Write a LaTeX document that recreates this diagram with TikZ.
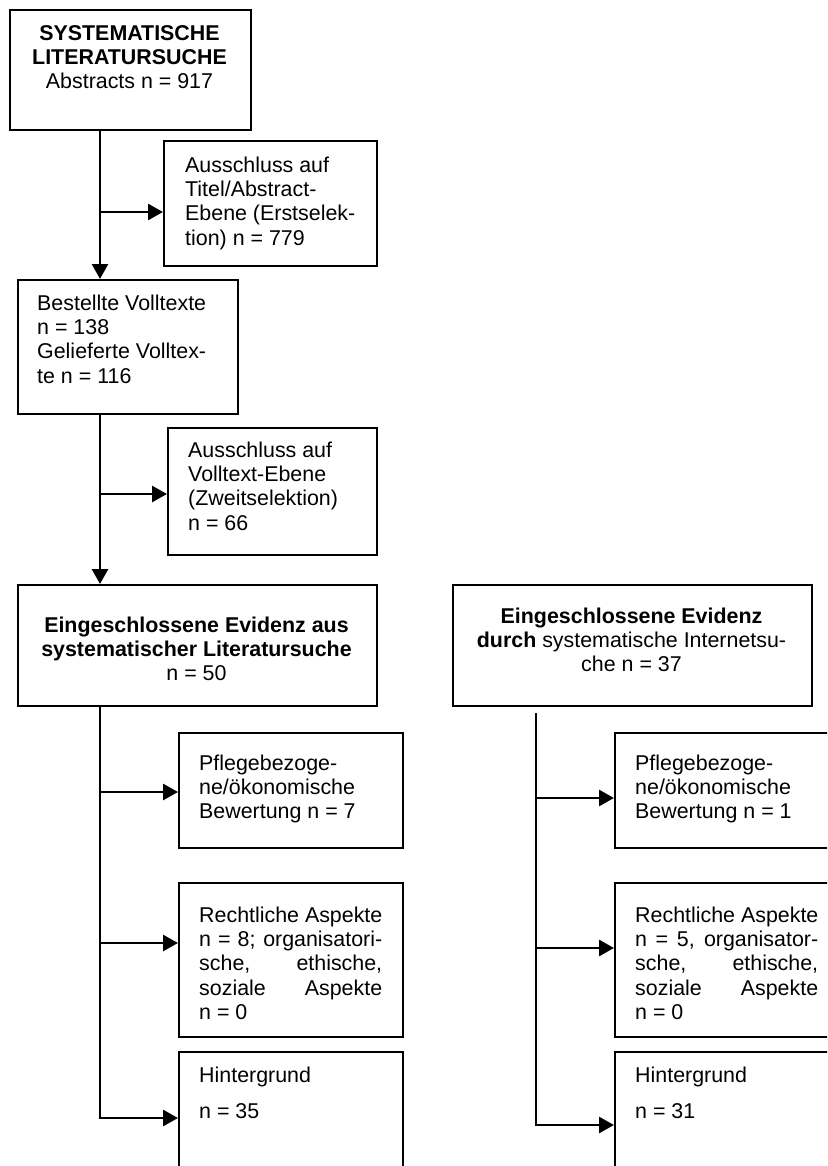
\documentclass[tikz,border=0pt]{standalone}
\usepackage{fontspec}
\setmainfont{Liberation Sans}
\usetikzlibrary{arrows.meta}
\tikzset{
  boxnode/.style={draw, line width=2.2pt, inner sep=0pt, anchor=north west},
  txtl/.style={inner sep=0pt, anchor=north west, align=left, font=\fontsize{21.4}{24.4}\selectfont},
  txtc/.style={inner sep=0pt, anchor=north, align=center, font=\fontsize{21.4}{24.4}\selectfont},
  conn/.style={line width=2.8pt},
  arr/.style={line width=2.8pt, -{Triangle[length=15pt,width=16pt]}},
}
\newcommand{\jl}[1]{\makebox[183pt][s]{#1}}
\begin{document}
\begin{tikzpicture}[x=1pt,y=-1pt]
\useasboundingbox (0,0) rectangle (827,1166);
\fill[white] (0,0) rectangle (827,1166);
\clip (0,0) rectangle (827,1166);

% boxes
\node[boxnode, minimum width=241pt, minimum height=120pt] (b1) at (9,9) {};
\node[boxnode, minimum width=213pt, minimum height=125pt] (b2) at (163,140) {};
\node[boxnode, minimum width=220pt, minimum height=134pt] (b3) at (17,279) {};
\node[boxnode, minimum width=209pt, minimum height=127pt] (b4) at (167,427) {};
\node[boxnode, minimum width=359pt, minimum height=121pt] (b5) at (17,584) {};
\node[boxnode, minimum width=359pt, minimum height=121pt] (b6) at (452,584) {};
\node[boxnode, minimum width=224pt, minimum height=115pt] (b7) at (178,732) {};
\node[boxnode, minimum width=224pt, minimum height=154pt] (b8) at (178,882) {};
\node[boxnode, minimum width=224pt, minimum height=160pt] (b9) at (178,1051) {};
\node[boxnode, minimum width=224pt, minimum height=115pt] (b7r) at (614,732) {};
\node[boxnode, minimum width=224pt, minimum height=154pt] (b8r) at (614,882) {};
\node[boxnode, minimum width=224pt, minimum height=160pt] (b9r) at (614,1051) {};

% texts
\node[txtc] (t1) at (129.5,22.9) {\strut\textbf{SYSTEMATISCHE}\\\textbf{LITERATURSUCHE}\\Abstracts n = 917};
\node[txtl] (t2) at (185,154.9) {\strut Ausschluss auf\\Titel/Abstract-\\Ebene (Erstselek-\\tion) n = 779};
\node[txtl] (t3) at (37,292.9) {\strut Bestellte Volltexte\\n = 138\\Gelieferte Volltex-\\te n = 116};
\node[txtl] (t4) at (188,439.9) {\strut Ausschluss auf\\Volltext-Ebene\\(Zweitselektion)\\n = 66};
\node[txtc] (t5) at (196.5,614.9) {\strut\textbf{Eingeschlossene Evidenz aus}\\\textbf{systematischer Literatursuche}\\n = 50};
\node[txtc] (t6) at (631.5,605.9) {\strut\textbf{Eingeschlossene Evidenz}\\\textbf{durch} systematische Internetsu-\\che n = 37};
\node[txtl] (t7) at (199,752.9) {\strut Pflegebezoge-\\ne/ökonomische\\Bewertung n = 7};
\node[txtl] (t8) at (199,904.9) {\strut Rechtliche Aspekte\\\jl{n = 8; organisatori-}\\\jl{sche, \hfill ethische,}\\\jl{soziale \hfill Aspekte}\\n = 0};
\node[txtl] (t9) at (199,1064.9) {\strut Hintergrund\\[11.6pt]n = 35};
\node[txtl] (t7r) at (635,752.9) {\strut Pflegebezoge-\\ne/ökonomische\\Bewertung n = 1};
\node[txtl] (t8r) at (635,904.9) {\strut Rechtliche Aspekte\\\jl{n = 5, organisator-}\\\jl{sche, \hfill ethische,}\\\jl{soziale \hfill Aspekte}\\n = 0};
\node[txtl] (t9r) at (635,1064.9) {\strut Hintergrund\\[11.6pt]n = 31};

% connectors, upper part
\coordinate (cx) at (100,0);
\draw[arr] (cx |- b1.south) -- (cx |- b3.north);
\coordinate (k1) at (100,212);
\draw[arr] (k1) -- (k1 -| b2.west);
\draw[arr] (cx |- b3.south) -- (cx |- b5.north);
\coordinate (k2) at (100,494);
\draw[arr] (k2) -- (k2 -| b4.west);

% left lower trunk
\coordinate (l1) at (100,792);
\coordinate (l2) at (100,943);
\coordinate (l3) at (100,1118);
\draw[conn] (cx |- b5.south) -- (l3);
\draw[arr] (l1) -- (l1 -| b7.west);
\draw[arr] (l2) -- (l2 -| b8.west);
\draw[arr] ([xshift=-1.4pt]l3) -- (l3 -| b9.west);

% right lower trunk
\coordinate (r0) at (536,713);
\coordinate (r1) at (536,798);
\coordinate (r2) at (536,948);
\coordinate (r3) at (536,1125);
\draw[conn] (r0) -- (r3);
\draw[arr] (r1) -- (r1 -| b7r.west);
\draw[arr] (r2) -- (r2 -| b8r.west);
\draw[arr] ([xshift=-1.4pt]r3) -- (r3 -| b9r.west);
\end{tikzpicture}
\end{document}
